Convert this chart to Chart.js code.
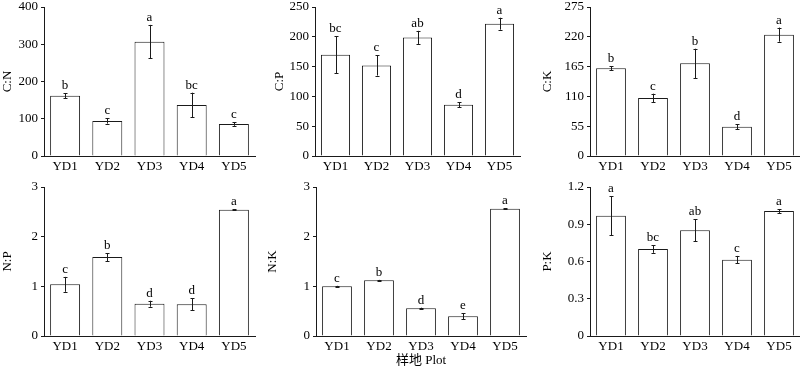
<!DOCTYPE html>
<html>
<head>
<meta charset="utf-8">
<script src="https://cdn.jsdelivr.net/npm/chart.js@4.4.1/dist/chart.umd.min.js"></script>
<style>
  html, body { margin: 0; padding: 0; background: #fff; }
  #wrap { position: relative; width: 800px; height: 371px; overflow: hidden; }
  #wrap canvas { position: absolute; }
</style>
</head>
<body>
<div id="wrap"></div>
<script>
// Categorie (sample plots)
const categories = ['YD1', 'YD2', 'YD3', 'YD4', 'YD5'];

// C:N
const cnValues = [162, 94, 307, 137, 86];
const cnErrors = [7, 7, 45, 33, 5];
const cnLetters = ['b', 'c', 'a', 'bc', 'c'];
const cnTicks = [0, 100, 200, 300, 400];

// C:P
const cpValues = [170, 152, 199, 86, 222];
const cpErrors = [31, 17, 11, 4.5, 10];
const cpLetters = ['bc', 'c', 'ab', 'd', 'a'];
const cpTicks = [0, 50, 100, 150, 200, 250];

// C:K
const ckValues = [162, 107, 171, 54, 224];
const ckErrors = [3.5, 8, 27, 5, 13];
const ckLetters = ['b', 'c', 'b', 'd', 'a'];
const ckTicks = [0, 55, 110, 165, 220, 275];

// N:P
const npValues = [1.04, 1.59, 0.65, 0.64, 2.54];
const npErrors = [0.15, 0.08, 0.06, 0.12, 0.01];
const npLetters = ['c', 'b', 'd', 'd', 'a'];
const npTicks = [0, 1, 2, 3];

// N:K
const nkValues = [1.0, 1.12, 0.56, 0.40, 2.56];
const nkErrors = [0.01, 0.01, 0.01, 0.06, 0.01];
const nkLetters = ['c', 'b', 'd', 'e', 'a'];
const nkTicks = [0, 1, 2, 3];

// P:K
const pkValues = [0.968, 0.70, 0.852, 0.615, 1.006];
const pkErrors = [0.158, 0.03, 0.09, 0.03, 0.015];
const pkLetters = ['a', 'bc', 'ab', 'c', 'a'];
const pkTicks = [0, 0.3, 0.6, 0.9, 1.2];

const xTitle = '样地 Plot';

const FONT = "'Liberation Serif', 'Noto Sans CJK SC', serif";
const INK = '#1a1a1a';

// Pannelli: dati + posizione nella pagina
const panels = [
    { label: 'C:N', values: cnValues, errors: cnErrors, letters: cnLetters, ticks: cnTicks,
      left: 0, top: -5, width: 265, height: 190, axisW: 44, axisH: 29, padRight: 10 },
    { label: 'C:P', values: cpValues, errors: cpErrors, letters: cpLetters, ticks: cpTicks,
      left: 272, top: -5, width: 258, height: 190, axisW: 43, axisH: 29, padRight: 10 },
    { label: 'C:K', values: ckValues, errors: ckErrors, letters: ckLetters, ticks: ckTicks,
      left: 540, top: -5, width: 260, height: 190, axisW: 50, axisH: 29, padRight: 0 },
    { label: 'N:P', values: npValues, errors: npErrors, letters: npLetters, ticks: npTicks,
      left: 0, top: 175, width: 265, height: 196, axisW: 44, axisH: 35, padRight: 10 },
    { label: 'N:K', values: nkValues, errors: nkErrors, letters: nkLetters, ticks: nkTicks,
      left: 265, top: 175, width: 270, height: 196, axisW: 51, axisH: 35, padRight: 9, showX: true },
    { label: 'P:K', values: pkValues, errors: pkErrors, letters: pkLetters, ticks: pkTicks,
      left: 540, top: 175, width: 260, height: 196, axisW: 50, axisH: 35, padRight: 0 }
];

// Barre d'errore e lettere di significatività
const errorBarPlugin = {
    id: 'errorBars',
    afterDatasetsDraw(chart, args, opts) {
        const ctx = chart.ctx;
        const meta = chart.getDatasetMeta(0);
        const yScale = chart.scales.y;
        ctx.save();
        ctx.strokeStyle = INK;
        ctx.lineWidth = 1;
        ctx.fillStyle = '#000';
        ctx.font = '13px ' + FONT;
        ctx.textAlign = 'center';
        ctx.textBaseline = 'alphabetic';
        meta.data.forEach((bar, i) => {
            const v = opts.values[i];
            const e = opts.errors[i];
            const x = Math.round(bar.x) + 0.5;
            const yTop = yScale.getPixelForValue(v + e);
            const yBot = yScale.getPixelForValue(v - e);
            ctx.beginPath();
            ctx.moveTo(x, yTop);
            ctx.lineTo(x, yBot);
            ctx.moveTo(x - 2, Math.round(yTop) + 0.5);
            ctx.lineTo(x + 2, Math.round(yTop) + 0.5);
            ctx.moveTo(x - 2, Math.round(yBot) + 0.5);
            ctx.lineTo(x + 2, Math.round(yBot) + 0.5);
            ctx.stroke();
            ctx.fillText(opts.letters[i], bar.x, yTop - 4);
        });
        ctx.restore();
    }
};

function renderPanel(p) {
    const canvas = document.createElement('canvas');
    canvas.width = p.width;
    canvas.height = p.height;
    canvas.style.left = p.left + 'px';
    canvas.style.top = p.top + 'px';
    canvas.style.width = p.width + 'px';
    canvas.style.height = p.height + 'px';
    document.getElementById('wrap').appendChild(canvas);

    return new Chart(canvas.getContext('2d'), {
        type: 'bar',
        data: {
            labels: categories,
            datasets: [{
                data: p.values,
                backgroundColor: '#fff',
                borderColor: INK,
                borderWidth: 1,
                barPercentage: 0.71,
                categoryPercentage: 1
            }]
        },
        options: {
            responsive: false,
            animation: false,
            devicePixelRatio: 1,
            layout: { padding: { top: 12, right: p.padRight, left: 0, bottom: 0 } },
            plugins: {
                legend: { display: false },
                tooltip: { enabled: false },
                errorBars: { values: p.values, errors: p.errors, letters: p.letters }
            },
            scales: {
                x: {
                    grid: { display: false, drawTicks: false },
                    border: { display: true, color: INK, width: 1 },
                    ticks: { color: '#000', padding: 3, font: { family: FONT, size: 13 } },
                    title: {
                        display: !!p.showX,
                        text: xTitle,
                        color: '#000',
                        padding: { top: 0, bottom: 3 },
                        font: { family: FONT, size: 13 }
                    },
                    afterFit: s => { s.height = p.axisH; }
                },
                y: {
                    min: p.ticks[0],
                    max: p.ticks[p.ticks.length - 1],
                    afterBuildTicks: s => { s.ticks = p.ticks.map(v => ({ value: v })); },
                    grid: { drawOnChartArea: false, drawTicks: true, tickLength: 3, color: INK },
                    border: { display: true, color: INK, width: 1 },
                    ticks: {
                        color: '#000',
                        padding: 3,
                        font: { family: FONT, size: 13 },
                        callback: v => String(+v.toFixed(2))
                    },
                    title: {
                        display: true,
                        text: p.label,
                        color: '#000',
                        padding: 0,
                        font: { family: FONT, size: 13 }
                    },
                    afterFit: s => { s.width = p.axisW; }
                }
            }
        },
        plugins: [errorBarPlugin]
    });
}

panels.forEach(renderPanel);
</script>
</body>
</html>
